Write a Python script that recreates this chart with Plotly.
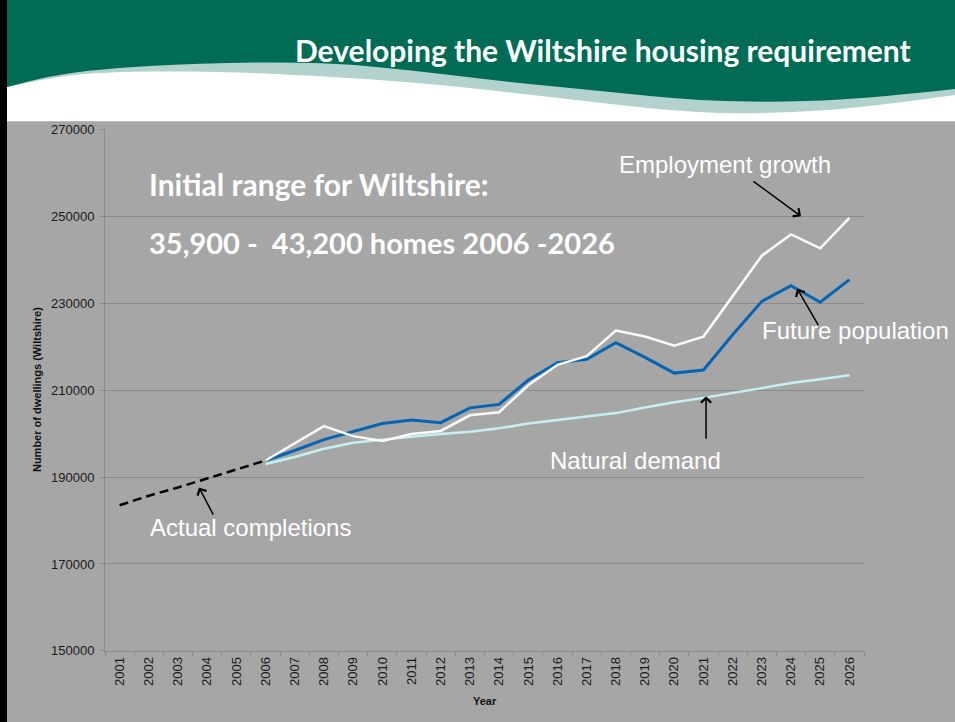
import plotly.graph_objects as go

# ---------------- data ----------------
years = ["2001", "2002", "2003", "2004", "2005", "2006", "2007", "2008", "2009",
         "2010", "2011", "2012", "2013", "2014", "2015", "2016", "2017", "2018",
         "2019", "2020", "2021", "2022", "2023", "2024", "2025", "2026"]

actual_years = years[:6]
actual_completions = [183500, 185700, 187600, 189700, 191800, 193800]

proj_years = years[5:]
future_population = [193800, 196100, 198600, 200400, 202300, 203100, 202500,
                     205900, 206700, 212300, 216300, 217100, 220900, 217500,
                     213900, 214600, 222700, 230400, 234000, 230200, 235400]
employment_growth = [193800, 197800, 201700, 199400, 198300, 199900, 200600,
                     204200, 204900, 211100, 215800, 217800, 223700, 222300,
                     220200, 222300, 231600, 240900, 245800, 242600, 249600]
natural_demand = [193000, 194600, 196500, 197900, 198600, 199300, 199900,
                  200400, 201200, 202300, 203100, 203800, 204700, 206000,
                  207200, 208200, 209300, 210400, 211600, 212500, 213400]

title_text = "Developing the Wiltshire housing requirement"
headline_1 = "Initial range for Wiltshire:"
headline_2 = "35,900 -  43,200 homes 2006 -2026"

# ---------------- page geometry ----------------
W, H = 955, 722
# vertical calibration of the capture (observed: shown_y = OFF + S * page_y)
S, OFF = 0.976, 8.2


def px(x):
    return x / W


def py(y):
    """target picture y (px from top) -> paper fraction"""
    page_y = (y - OFF) / S
    return 1 - page_y / H


def smooth_path(points, start_cmd="M"):
    pts = [(px(x), py(y)) for x, y in points]
    s = f"{start_cmd} {pts[0][0]:.5f},{pts[0][1]:.5f} "
    for i in range(1, len(pts) - 1):
        mx = (pts[i][0] + pts[i + 1][0]) / 2
        my = (pts[i][1] + pts[i + 1][1]) / 2
        s += f"Q {pts[i][0]:.5f},{pts[i][1]:.5f} {mx:.5f},{my:.5f} "
    s += f"L {pts[-1][0]:.5f},{pts[-1][1]:.5f} "
    return s


GREEN = "#006C55"
TEAL = "#B3D2CD"
GREY = "#A6A6A6"
GRID = "#8A8A8A"

green_bottom = [(955, 90), (880, 98), (800, 103), (700, 102), (600, 92),
                (500, 82), (400, 70), (320, 63), (200, 64), (100, 70),
                (50, 77), (7, 88)]
teal_bottom = [(955, 96), (870, 108), (780, 114), (700, 114), (600, 104),
               (500, 92), (400, 82), (280, 75), (200, 72), (100, 73),
               (50, 79), (7, 88)]

top_y = 1.02
teal_path = (f"M {px(7):.5f},{top_y} L {px(955):.5f},{top_y} "
             + smooth_path(teal_bottom, "L") + "Z")
green_path = (f"M {px(7):.5f},{top_y} L {px(955):.5f},{top_y} "
              + smooth_path(green_bottom, "L") + "Z")

shapes = [
    dict(type="rect", xref="paper", yref="paper", x0=px(7), x1=px(955),
         y0=-0.02, y1=py(122), fillcolor=GREY, line_width=0, layer="below"),
    dict(type="path", xref="paper", yref="paper", path=teal_path,
         fillcolor=TEAL, line_width=0, layer="below"),
    dict(type="path", xref="paper", yref="paper", path=green_path,
         fillcolor=GREEN, line_width=0, layer="below"),
    dict(type="rect", xref="paper", yref="paper", x0=0, x1=px(7),
         y0=-0.02, y1=1.02, fillcolor="#000000", line_width=0, layer="below"),
]

# ---------------- traces ----------------
fig = go.Figure()
fig.add_trace(go.Scatter(x=proj_years, y=natural_demand, mode="lines",
                         line=dict(color="#C6F0F0", width=2.5),
                         name="Natural demand"))
fig.add_trace(go.Scatter(x=proj_years, y=future_population, mode="lines",
                         line=dict(color="#0665B2", width=3),
                         name="Future population"))
fig.add_trace(go.Scatter(x=proj_years, y=employment_growth, mode="lines",
                         line=dict(color="#FAFAFA", width=2.5),
                         name="Employment growth"))
fig.add_trace(go.Scatter(x=actual_years, y=actual_completions, mode="lines",
                         line=dict(color="#000000", width=2.5, dash="9px,5px"),
                         name="Actual completions"))

ARIAL = "Liberation Sans, Arial, sans-serif"
BOLDF = "Lato, Open Sans, sans-serif"


def arrow(x, y, ax, ay):
    return dict(text="", x=x, y=y, xref="x", yref="y", ax=ax, ay=ay / S,
                showarrow=True, arrowhead=4, arrowsize=1.3, arrowwidth=1.5,
                arrowcolor="black")


annotations = [
    dict(text=f"<b>{title_text}</b>", xref="paper", yref="paper",
         x=px(913), y=py(51), xanchor="right", yanchor="middle",
         showarrow=False, font=dict(family=BOLDF, size=30, color="white")),
    dict(text=f"<b>{headline_1}</b>", xref="paper", yref="paper",
         x=px(147), y=py(185), xanchor="left", yanchor="middle",
         showarrow=False, font=dict(family=BOLDF, size=30, color="white")),
    dict(text=f"<b>{headline_2}</b>", xref="paper", yref="paper",
         x=px(147), y=py(243), xanchor="left", yanchor="middle",
         showarrow=False, font=dict(family=BOLDF, size=29, color="white")),
    dict(text="Employment growth", xref="paper", yref="paper",
         x=px(617), y=py(165), xanchor="left", yanchor="middle",
         showarrow=False, font=dict(family=ARIAL, size=24, color="white")),
    dict(text="Future population", xref="paper", yref="paper",
         x=px(760), y=py(331), xanchor="left", yanchor="middle",
         showarrow=False, font=dict(family=ARIAL, size=24, color="white")),
    dict(text="Natural demand", xref="paper", yref="paper",
         x=px(548), y=py(460), xanchor="left", yanchor="middle",
         showarrow=False, font=dict(family=ARIAL, size=24, color="white")),
    dict(text="Actual completions", xref="paper", yref="paper",
         x=px(148), y=py(527), xanchor="left", yanchor="middle",
         showarrow=False, font=dict(family=ARIAL, size=24, color="white")),
    arrow(23.34, 250000, -49, -35),
    arrow(23.21, 233300, 22, 37),
    arrow(20.09, 208600, 0, 43),
    arrow(2.72, 187600, 15, 28),
    dict(text="<b>Number of dwellings (Wiltshire)</b>", xref="paper",
         yref="paper", x=px(37), y=py(390), textangle=-90,
         xanchor="center", yanchor="middle", showarrow=False,
         font=dict(family=ARIAL, size=11, color="#111111")),
    dict(text="<b>Year</b>", xref="paper", yref="paper", x=px(485),
         y=py(700), xanchor="center", yanchor="middle", showarrow=False,
         font=dict(family=ARIAL, size=11, color="#111111")),
]

fig.update_layout(
    width=W, height=H, autosize=False,
    margin=dict(l=0, r=0, t=0, b=0, pad=0),
    paper_bgcolor="white", plot_bgcolor="rgba(0,0,0,0)",
    showlegend=False,
    shapes=shapes,
    annotations=annotations,
    xaxis=dict(
        domain=[px(105), px(864)], type="category",
        categoryorder="array", categoryarray=years,
        range=[-0.5, 25.5], tickson="boundaries",
        ticks="outside", ticklen=4, tickcolor=GRID,
        showline=True, linecolor=GRID, linewidth=1,
        showgrid=False, zeroline=False, tickangle=-90,
        tickfont=dict(family=ARIAL, size=13, color="#1A1A1A"),
    ),
    yaxis=dict(
        domain=[py(650), py(130)], range=[150000, 270000],
        tick0=150000, dtick=20000, tickformat="d",
        ticks="outside", ticklen=4, tickcolor=GRID,
        showline=True, linecolor=GRID, linewidth=1,
        showgrid=True, gridcolor=GRID, gridwidth=1, zeroline=False,
        tickfont=dict(family=ARIAL, size=13, color="#1A1A1A"),
        ticklabelstandoff=3,
    ),
)

fig.write_html(
    "out.html",
    config={"displayModeBar": False},
    post_script=("document.body.style.margin='0px';"
                 "document.documentElement.style.background="
                 "'linear-gradient(to bottom, #000000 0%, #000000 50%, "
                 "#A6A6A6 50%, #A6A6A6 100%) no-repeat';"
                 "document.documentElement.style.minHeight='100%';"),
)
